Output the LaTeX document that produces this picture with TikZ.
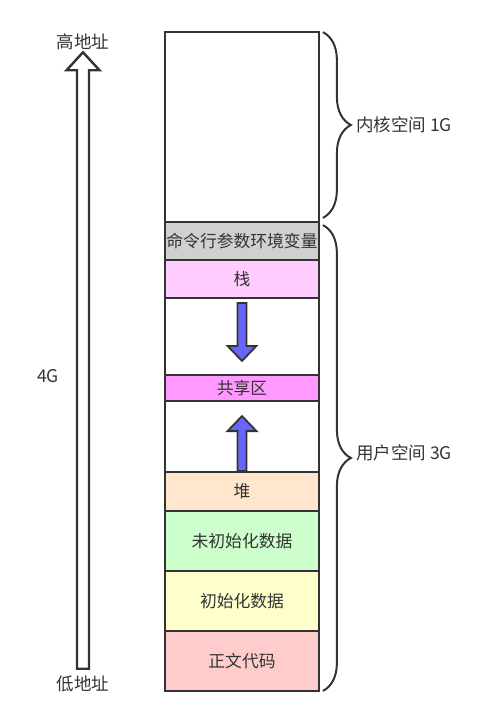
\documentclass[tikz,border=0pt]{standalone}
\usepackage{fontspec}
\setmainfont{Noto Sans CJK SC}
\usetikzlibrary{decorations.pathreplacing,calc}
\definecolor{edge}{HTML}{333333}
\definecolor{txt}{HTML}{333333}
\definecolor{cmdc}{HTML}{D0D0D0}
\definecolor{stackc}{HTML}{FFCCFF}
\definecolor{sharec}{HTML}{FF99FF}
\definecolor{heapc}{HTML}{FFE6CC}
\definecolor{bssc}{HTML}{CCFFCC}
\definecolor{datac}{HTML}{FFFFCC}
\definecolor{textc}{HTML}{FFCCCC}
\definecolor{bluec}{HTML}{6666FF}
\begin{document}
\begin{tikzpicture}[x=1pt,y=-1pt,
  seg/.style={draw=edge,line width=1.8pt,minimum width=154pt,inner sep=0pt,text=txt,font=\fontsize{16.8}{18}\selectfont},
  lbl/.style={text=txt,font=\fontsize{17.5}{19}\selectfont,inner sep=0pt},
  bracestyle/.style={draw=edge,line width=2pt,decorate,decoration={brace,amplitude=28pt}},
  flow/.style={draw=edge,line width=1.8pt,fill=bluec,line join=miter},
  bigarrow/.style={draw=edge,line width=2.4pt,fill=white,line join=miter}]
\useasboundingbox (0,0) rectangle (495,705);
\node[seg,fill=white,minimum height=190pt] (kernel) at (242,127) {};
\node[seg,fill=cmdc,minimum height=38pt] (cmd) at (242,241) {命令行参数环境变量};
\node[seg,fill=stackc,minimum height=38pt] (stack) at (242,279) {栈};
\node[seg,fill=white,minimum height=77pt] (gapa) at (242,336.5) {};
\node[seg,fill=sharec,minimum height=26pt] (share) at (242,388) {共享区};
\node[seg,fill=white,minimum height=71pt] (gapb) at (242,436.5) {};
\node[seg,fill=heapc,minimum height=39pt] (heap) at (242,491.5) {堆};
\node[seg,fill=bssc,minimum height=60pt] (bss) at (242,541) {未初始化数据};
\node[seg,fill=datac,minimum height=60pt] (data) at (242,601) {初始化数据};
\node[seg,fill=textc,minimum height=60pt] (code) at (242,661) {正文代码};
% blue arrows
\draw[flow] ($(stack.south)+(-4.5,4)$) -- ($(stack.south)+(4.5,4)$) -- ($(stack.south)+(4.5,47)$)
  -- ($(stack.south)+(14.5,47)$) -- ($(stack.south)+(0,62)$) -- ($(stack.south)+(-14.5,47)$)
  -- ($(stack.south)+(-4.5,47)$) -- cycle;
\draw[flow] ($(heap.north)+(-4.5,0)$) -- ($(heap.north)+(4.5,0)$) -- ($(heap.north)+(4.5,-40)$)
  -- ($(heap.north)+(14.5,-40)$) -- ($(heap.north)+(0,-55)$) -- ($(heap.north)+(-14.5,-40)$)
  -- ($(heap.north)+(-4.5,-40)$) -- cycle;
% left address arrow
\node[lbl] (high) at (83,42) {高地址};
\node[lbl] (low) at (83,684) {低地址};
\node[lbl] (total) at (48,376) {4G};
\draw[bigarrow] ($(low.north)+(-6,-7)$) -- ($(low.north)+(6,-7)$) -- ($(high.south)+(6,20)$)
  -- ($(high.south)+(16.5,20)$) -- ($(high.south)+(0,2)$) -- ($(high.south)+(-16.5,20)$)
  -- ($(high.south)+(-6,20)$) -- cycle;
% braces
\draw[bracestyle] ($(kernel.north east)+(3,1)$) -- ($(kernel.south east)+(3,-5)$) coordinate[midway] (kmid);
\draw[bracestyle] ($(cmd.north east)+(3,4)$) -- ($(code.south east)+(3,-1)$) coordinate[midway] (umid);
\node[lbl,anchor=west] (klabel) at (356,125) {内核空间 1G};
\node[lbl,anchor=west] (ulabel) at (356,453) {用户空间 3G};
\end{tikzpicture}
\end{document}
